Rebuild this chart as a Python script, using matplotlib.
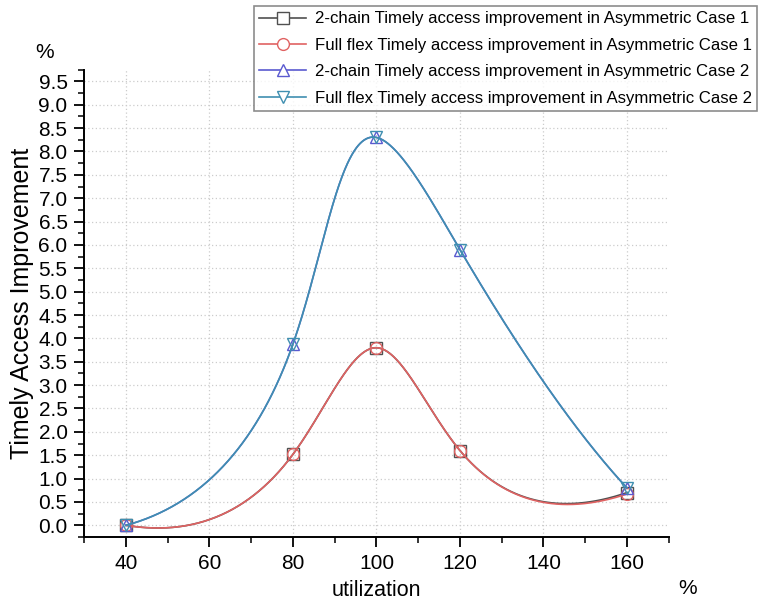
import numpy as np
import matplotlib
matplotlib.use("Agg")
import matplotlib.pyplot as plt
from matplotlib.ticker import MultipleLocator, FormatStrFormatter

plt.rcParams["font.family"] = ["Liberation Sans", "DejaVu Sans"]

utilization = [40, 80, 100, 120, 160]
chain_case1 = [0.0, 1.52, 3.80, 1.60, 0.70]
full_case1 = [0.0, 1.52, 3.80, 1.60, 0.67]
chain_case2 = [0.0, 3.88, 8.30, 5.90, 0.80]
full_case2 = [0.0, 3.88, 8.30, 5.90, 0.80]

labels = [
    "2-chain Timely access improvement in Asymmetric Case 1",
    "Full flex Timely access improvement in Asymmetric Case 1",
    "2-chain Timely access improvement in Asymmetric Case 2",
    "Full flex Timely access improvement in Asymmetric Case 2",
]


def spline_moments(t, v):
    # cubic spline second derivatives, parabolic run-out at both ends
    k = len(t); h = np.diff(t)
    A = np.zeros((k, k)); b = np.zeros(k)
    A[0, 0] = 1; A[0, 1] = -1
    A[-1, -1] = 1; A[-1, -2] = -1
    for i in range(1, k - 1):
        A[i, i - 1] = h[i - 1]; A[i, i] = 2 * (h[i - 1] + h[i]); A[i, i + 1] = h[i]
        b[i] = 6 * ((v[i + 1] - v[i]) / h[i] - (v[i] - v[i - 1]) / h[i - 1])
    return np.linalg.solve(A, b)


def spline_eval(t, v, M, ts):
    h = np.diff(t)
    j = np.clip(np.searchsorted(t, ts) - 1, 0, len(t) - 2)
    t0 = t[j + 1] - ts; t1 = ts - t[j]
    return (M[j] * t0**3 + M[j + 1] * t1**3) / (6 * h[j]) \
        + (v[j] / h[j] - M[j] * h[j] / 6) * t0 + (v[j + 1] / h[j] - M[j + 1] * h[j] / 6) * t1


def smooth_curve(x, y, aspect=11.3, n=600):
    # parametric spline on chord length, y scaled to screen proportions
    x = np.asarray(x, float); y = np.asarray(y, float) * aspect
    t = np.concatenate([[0], np.cumsum(np.hypot(np.diff(x), np.diff(y)))])
    ts = np.linspace(0, t[-1], n)
    xs = spline_eval(t, x, spline_moments(t, x), ts)
    ys = spline_eval(t, y, spline_moments(t, y), ts)
    return xs, ys / aspect


series = [
    (chain_case1, "#505050", "s"),
    (full_case1, "#e06262", "o"),
    (chain_case2, "#5a5ad0", "^"),
    (full_case2, "#3f8fb0", "v"),
]

fig = plt.figure(figsize=(7.61, 6.05), dpi=100)
ax = fig.add_axes([0.1107, 0.1124, 0.768, 0.7724])

handles = []
for vals, col, mk in series:
    xs, ys = smooth_curve(utilization, vals)
    ax.plot(xs, ys, "-", color=col, lw=1.2)
    ax.plot(utilization, vals, ls="none", marker=mk, ms=8.5, mfc="none", mec=col, mew=1.0)
    h, = ax.plot([], [], "-", color=col, lw=1.2, marker=mk, ms=8.5, mfc="white", mec=col)
    handles.append(h)

ax.set_xlim(30, 170)
ax.set_ylim(-0.25, 9.75)
ax.xaxis.set_major_locator(MultipleLocator(20))
ax.xaxis.set_minor_locator(MultipleLocator(10))
ax.set_xticks(range(40, 161, 20))
ax.yaxis.set_minor_locator(MultipleLocator(0.25))
ax.set_yticks(np.arange(0, 9.51, 0.5))
ax.yaxis.set_major_formatter(FormatStrFormatter("%.1f"))
ax.tick_params(which="major", length=7, width=1.3, labelsize=15, direction="out", pad=5)
ax.tick_params(which="minor", length=4, width=1.1, direction="out")
for s in ["top", "right"]:
    ax.spines[s].set_visible(False)
for s in ["left", "bottom"]:
    ax.spines[s].set_linewidth(1.4)
ax.grid(True, which="major", ls=(0, (1, 2)), color="#cccccc", lw=0.9)

ax.set_xlabel("utilization", fontsize=15.5, labelpad=5)
ax.set_ylabel("Timely Access Improvement", fontsize=18, labelpad=3)
fig.text(45 / 761, 1 - 52 / 605, "%", fontsize=15, ha="center", va="center")
fig.text(688 / 761, 1 - 588 / 605, "%", fontsize=15, ha="center", va="center")

leg = fig.legend(handles, labels, loc="upper right", bbox_to_anchor=(0.999, 0.995),
                 fontsize=12.1, frameon=True, fancybox=False, edgecolor="#707070",
                 handlelength=2.8, borderpad=0.3, labelspacing=0.68, handletextpad=0.5,
                 borderaxespad=0.2)
leg.get_frame().set_linewidth(1.2)

fig.savefig("out.png", dpi=100)
